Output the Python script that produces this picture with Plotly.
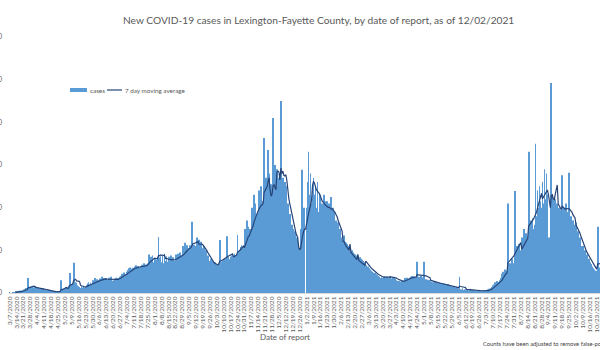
import pandas as pd
import plotly.graph_objects as go

start_date = "2020-03-07"
# daily new cases, one row per week (Sat..Fri)
cases = [
    1, 0, 0, 2, 1, 2, 3,
    2, 3, 4, 5, 3, 6, 5,
    6, 8, 9, 12, 10, 35, 12,
    14, 12, 15, 11, 13, 16, 10,
    12, 8, 11, 9, 10, 7, 12,
    5, 7, 6, 4, 8, 5, 6,
    3, 2, 4, 3, 2, 4, 3,
    2, 3, 4, 30, 6, 8, 10,
    12, 14, 10, 13, 17, 47, 16,
    20, 22, 71, 25, 24, 19, 18,
    16, 14, 12, 15, 13, 17, 12,
    14, 18, 22, 25, 20, 24, 19,
    26, 30, 28, 35, 25, 32, 27,
    30, 34, 29, 38, 31, 35, 28,
    35, 31, 30, 36, 33, 38, 29,
    28, 30, 33, 36, 31, 35, 34,
    38, 40, 45, 42, 48, 44, 39,
    50, 54, 58, 60, 52, 57, 59,
    55, 62, 65, 58, 63, 60, 57,
    62, 66, 60, 70, 64, 67, 61,
    70, 90, 80, 85, 75, 88, 72,
    80, 82, 78, 85, 131, 83, 86,
    72, 88, 70, 92, 75, 86, 73,
    70, 85, 72, 88, 70, 84, 76,
    75, 90, 82, 92, 80, 95, 78,
    88, 110, 95, 118, 92, 112, 100,
    105, 112, 108, 167, 107, 113, 110,
    110, 130, 105, 125, 108, 120, 105,
    95, 110, 85, 100, 80, 88, 75,
    65, 80, 60, 75, 62, 72, 65,
    66, 64, 70, 124, 68, 74, 76,
    78, 80, 76, 133, 82, 85, 79,
    85, 88, 90, 86, 92, 89, 87,
    136, 98, 100, 108, 112, 105, 110,
    110, 150, 125, 170, 155, 120, 150,
    150, 200, 170, 230, 210, 165, 185,
    190, 240, 200, 250, 215, 195, 363,
    220, 270, 230, 335, 280, 0, 255,
    245, 410, 255, 300, 230, 290, 270,
    230, 280, 450, 210, 270, 220, 260,
    250, 190, 210, 150, 185, 140, 160,
    150, 120, 145, 100, 130, 110, 0,
    100, 150, 289, 160, 200, 150, 0,
    200, 260, 331, 230, 280, 210, 250,
    270, 230, 250, 200, 260, 190, 230,
    230, 180, 210, 190, 230, 175, 215,
    215, 170, 210, 165, 225, 180, 200,
    190, 150, 170, 135, 165, 140, 150,
    130, 125, 0, 135, 120, 118, 115,
    110, 105, 98, 0, 100, 95, 92,
    90, 88, 82, 86, 0, 84, 80,
    78, 75, 72, 68, 65, 60, 62,
    58, 55, 52, 50, 48, 45, 47,
    44, 42, 40, 38, 36, 35, 37,
    35, 38, 40, 36, 39, 37, 35,
    38, 40, 34, 36, 37, 35, 33,
    30, 28, 26, 29, 27, 25, 28,
    28, 30, 35, 33, 36, 31, 34,
    36, 38, 40, 35, 39, 37, 38,
    73, 36, 38, 35, 40, 37, 34,
    73, 30, 32, 28, 31, 29, 30,
    26, 24, 25, 23, 27, 22, 24,
    20, 22, 24, 21, 23, 19, 22,
    18, 20, 17, 21, 19, 18, 16,
    14, 12, 15, 13, 11, 14, 12,
    10, 38, 9, 8, 11, 7, 9,
    8, 7, 9, 6, 8, 10, 7,
    5, 7, 6, 4, 6, 5, 7,
    4, 6, 5, 3, 6, 4, 5,
    5, 6, 9, 10, 8, 12, 14,
    18, 20, 25, 22, 28, 24, 26,
    30, 35, 45, 50, 48, 55, 52,
    40, 210, 55, 70, 60, 80, 65,
    70, 239, 80, 110, 90, 115, 100,
    95, 130, 110, 150, 120, 140, 125,
    120, 331, 130, 170, 140, 175, 150,
    160, 350, 180, 240, 200, 250, 215,
    200, 260, 210, 290, 220, 280, 230,
    130, 120, 130, 492, 230, 210, 220,
    220, 190, 210, 180, 200, 175, 195,
    276, 170, 200, 160, 210, 170, 190,
    282, 150, 180, 140, 170, 150, 160,
    165, 120, 145, 110, 130, 100, 110,
    110, 85, 100, 75, 90, 70, 80,
    72, 68, 62, 58, 55, 50, 52,
    48, 155, 58, 60, 62, 65, 68,
]
y_ticks = [0, 100, 200, 300, 400, 500, 600]
legend_labels = ["cases", "7 day moving average"]

dates = pd.date_range(start_date, periods=len(cases), freq="D")
s = pd.Series(cases, index=dates)
ma7 = s.rolling(7).mean()

tick_dates = pd.date_range(start_date, dates[-1], freq="7D")
tick_text = [f"{d.month}/{d.day}/{d.year}" for d in tick_dates]

GRAY = "#595959"
FONT = "Lato"
BLUE = "#5B9BD5"
NAVY = "#264478"

# pixel helpers for the plot area (left 9px, width 591px, top 37px, height 256px)
def px(x):
    return (x - 9) / 591

def py(y):
    return (293 - y) / 256

fig = go.Figure()
fig.add_trace(go.Bar(x=dates, y=cases, name=legend_labels[0], marker_color=BLUE,
                     marker_line_width=0))
fig.add_trace(go.Scatter(x=dates, y=ma7, name=legend_labels[1], mode="lines",
                         line=dict(color=NAVY, width=1.2)))

x0 = pd.Timestamp(start_date) - pd.Timedelta(hours=12)
x1 = pd.Timestamp(start_date) + pd.Timedelta(days=598.3)

fig.update_layout(
    width=600, height=350,
    margin=dict(l=9, r=0, t=37, b=57, pad=0, autoexpand=False),
    paper_bgcolor="white", plot_bgcolor="white",
    bargap=0.2,
    font=dict(family=FONT, color=GRAY, size=7),
    showlegend=False,
    xaxis=dict(type="date", range=[x0, x1], tickvals=tick_dates, ticktext=tick_text,
               tickangle=-90, tickfont=dict(size=6.5, color=GRAY, family=FONT),
               showgrid=False, showline=True, linecolor="#D9D9D9", linewidth=1,
               ticks="", zeroline=False, automargin=False),
    yaxis=dict(range=[0, 600], tickvals=y_ticks, showgrid=False, zeroline=False,
               ticks="", ticklabelstandoff=6, automargin=False,
               tickfont=dict(size=7, color=GRAY, family=FONT)),
    shapes=[
        dict(type="rect", xref="paper", yref="paper", x0=px(70), x1=px(87),
             y0=py(92), y1=py(88), fillcolor=BLUE, line_width=0),
        dict(type="line", xref="paper", yref="paper", x0=px(107), x1=px(122),
             y0=py(90), y1=py(90), line=dict(color=NAVY, width=1.2)),
    ],
    annotations=[
        dict(text="New COVID-19 cases in Lexington-Fayette County, by date of report, as of 12/02/2021",
             xref="paper", yref="paper", x=px(318), y=py(20),
             xanchor="center", yanchor="middle", showarrow=False,
             font=dict(size=10.2, color=GRAY, family=FONT)),
        dict(text=legend_labels[0], xref="paper", yref="paper", x=px(88), y=py(90),
             xanchor="left", yanchor="middle", showarrow=False,
             font=dict(size=6.3, color=GRAY, family=FONT)),
        dict(text=legend_labels[1], xref="paper", yref="paper", x=px(123), y=py(90),
             xanchor="left", yanchor="middle", showarrow=False,
             font=dict(size=6.3, color=GRAY, family=FONT)),
        dict(text="Date of report", xref="paper", yref="paper",
             x=px(285), y=py(337), xanchor="center", yanchor="middle",
             showarrow=False, font=dict(size=8, color=GRAY, family=FONT)),
        dict(text="Counts have been adjusted to remove false-positive cases",
             xref="paper", yref="paper", x=px(481), y=py(343),
             xanchor="left", yanchor="middle", showarrow=False,
             font=dict(size=5.8, color="#404040", family=FONT)),
    ],
)

fig.write_html("out.html")
